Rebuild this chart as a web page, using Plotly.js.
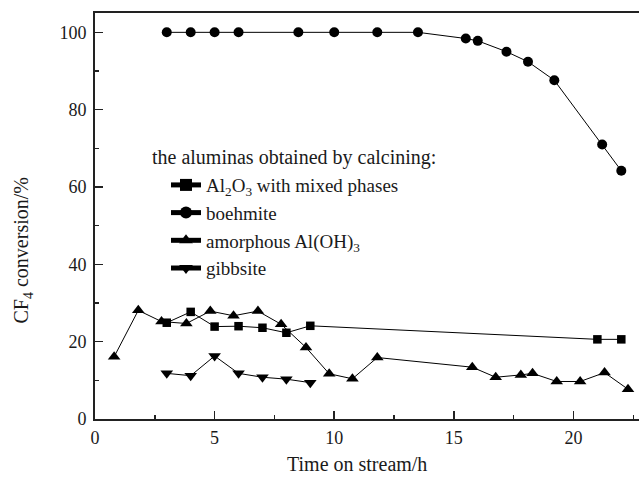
<!DOCTYPE html>
<html><head><meta charset="utf-8">
<script src="https://cdn.plot.ly/plotly-3.0.1.min.js"></script>
<style>html,body{margin:0;padding:0;background:#fff}#c{width:639px;height:479px}</style>
</head><body><div id="c"></div>
<script>
var mixedX = [3.0, 4.0, 5.0, 6.0, 7.0, 8.0, 9.0, 21.0, 22.0];
var mixedY = [24.9, 27.7, 23.9, 24.0, 23.6, 22.3, 24.1, 20.6, 20.6];
var boehX = [3.0, 4.0, 5.0, 6.0, 8.5, 10.0, 11.8, 13.5, 15.5, 16.0, 17.2, 18.1, 19.2, 21.2, 22.0];
var boehY = [100, 100, 100, 100, 100, 100, 100, 100, 98.4, 97.8, 95.0, 92.4, 87.6, 71.0, 64.2];
var amorX = [0.8, 1.81, 2.78, 3.82, 4.82, 5.79, 6.81, 7.78, 8.82, 9.79, 10.76, 11.8, 15.77, 16.75, 17.8, 18.29, 19.3, 20.28, 21.3, 22.28];
var amorY = [16.1, 28.1, 25.2, 24.7, 27.9, 26.7, 27.9, 24.5, 18.5, 11.7, 10.4, 15.9, 13.4, 10.8, 11.4, 11.8, 9.7, 9.7, 12.0, 7.7];
var gibbX = [3.0, 4.0, 5.0, 6.0, 7.0, 8.0, 9.0];
var gibbY = [11.8, 11.2, 16.3, 11.8, 10.8, 10.3, 9.4];
var names = ["Al<sub>2</sub>O<sub>3</sub> with mixed phases", "boehmite", "amorphous Al(OH)<sub>3</sub>", "gibbsite"];
var legendTitle = "the aluminas obtained by calcining:";
var xTitle = "Time on stream/h";
var yTitle = "CF<sub>4</sub> conversion/%";

function tr(x, y, name, sym, size) {
  return {x: x, y: y, name: name, type: 'scatter', mode: 'lines+markers',
    line: {color: '#000', width: 1},
    marker: {symbol: sym, size: size, color: '#000'}};
}
var data = [
  tr(mixedX, mixedY, names[0], 'square', 8.5),
  tr(boehX, boehY, names[1], 'circle', 10),
  tr(amorX, amorY, names[2], 'triangle-up', 11),
  tr(gibbX, gibbY, names[3], 'triangle-down', 11)
];
var fam = 'Liberation Serif, Times New Roman, serif';
var txt = '#1a1a1a';
var layout = {
  width: 639, height: 479,
  margin: {l: 95, r: 0, t: 13, b: 60},
  paper_bgcolor: '#fff', plot_bgcolor: '#fff',
  font: {family: fam, size: 18, color: txt},
  showlegend: true,
  legend: {x: 0.1305, y: 0.623, xanchor: 'left', yanchor: 'top',
    font: {family: fam, size: 19, color: txt},
    bgcolor: 'rgba(0,0,0,0)', tracegroupgap: 0, itemsizing: 'constant'},
  xaxis: {range: [0, 22.74], tickvals: [0, 5, 10, 15, 20], ticks: 'inside', ticklen: 8, tickwidth: 1.5,
    tickcolor: '#222', showline: true, linecolor: '#222', linewidth: 1.8, mirror: true,
    showgrid: false, zeroline: false, ticklabelstandoff: 2,
    tickfont: {family: fam, size: 18, color: txt},
    minor: {tickvals: [2.5, 7.5, 12.5, 17.5, 22.5], ticks: 'inside', ticklen: 4, tickcolor: '#222', tickwidth: 1.5}},
  yaxis: {range: [0, 105], tickvals: [0, 20, 40, 60, 80, 100], ticks: 'inside', ticklen: 8, tickwidth: 1.5,
    tickcolor: '#222', showline: true, linecolor: '#222', linewidth: 1.8, mirror: false,
    showgrid: false, zeroline: false, ticklabelstandoff: 3,
    tickfont: {family: fam, size: 18, color: txt},
    minor: {tickvals: [10, 30, 50, 70, 90], ticks: 'inside', ticklen: 4, tickcolor: '#222', tickwidth: 1.5}},
  annotations: [
    {text: xTitle, xref: 'paper', yref: 'paper', x: 0.4825, y: -0.1108, xanchor: 'center', yanchor: 'middle',
     showarrow: false, font: {family: fam, size: 20, color: txt}},
    {text: yTitle, xref: 'paper', yref: 'paper', x: -0.1324, y: 0.415, xanchor: 'center', yanchor: 'middle',
     textangle: -90, showarrow: false, font: {family: fam, size: 20, color: txt}},
    {text: legendTitle, xref: 'paper', yref: 'paper', x: 0.1011, y: 0.6453, xanchor: 'left', yanchor: 'middle',
     showarrow: false, font: {family: fam, size: 20, color: txt}}
  ]
};
Plotly.newPlot('c', data, layout, {displayModeBar: false, staticPlot: true});
</script></body></html>
